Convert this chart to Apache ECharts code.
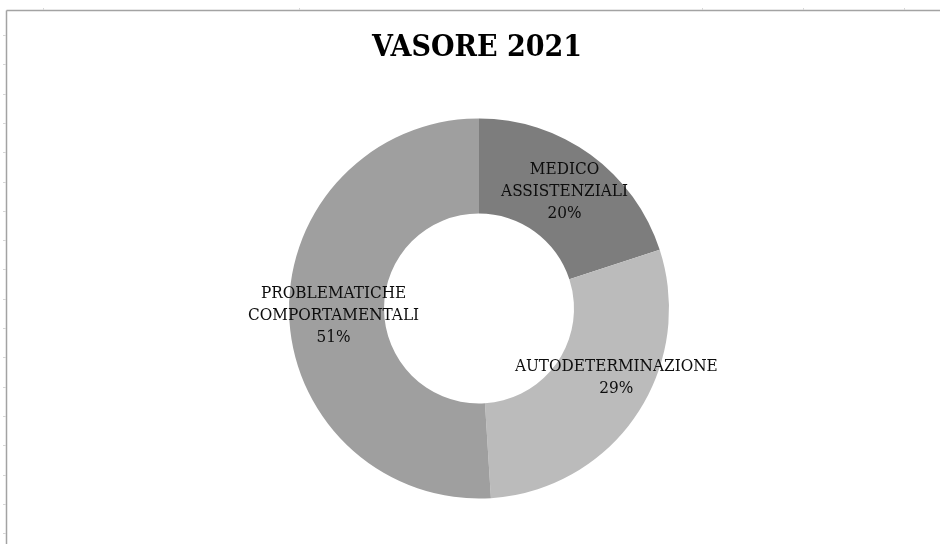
<!DOCTYPE html>
<html>
<head>
<meta charset="utf-8">
<title>VASORE 2021</title>
<script src="https://cdn.jsdelivr.net/npm/echarts@6/dist/echarts.min.js"></script>
<style>
  html, body { margin: 0; padding: 0; background: #ffffff; }
  #chart { width: 940px; height: 544px; }
</style>
</head>
<body>
<div id="chart"></div>
<script>
// Categories and shares (%) of the ring, clockwise from 12 o'clock
const categories = ['MEDICO ASSISTENZIALI', 'AUTODETERMINAZIONE', 'PROBLEMATICHE COMPORTAMENTALI'];
const shares = [20, 29, 51];
const sliceColors = ['#7d7d7d', '#bbbbbb', '#9f9f9f'];
const labelOffsets = [[0, 1], [17, -13], [0, 3]];

const serif = '"DejaVu Serif Condensed", "DejaVu Serif", serif';

const chart = echarts.init(document.getElementById('chart'), null, { renderer: 'canvas' });

// Sheet frame: top and left rules with small ruler ticks
const frameColor = '#a3a3a3';
const frame = [
  { type: 'line', shape: { x1: 6.5, y1: 10.5, x2: 940, y2: 10.5 }, style: { stroke: frameColor, lineWidth: 1.5 } },
  { type: 'line', shape: { x1: 6.5, y1: 10.5, x2: 6.5, y2: 544 }, style: { stroke: frameColor, lineWidth: 1.5 } }
];
for (let y = 35; y < 544; y += 29.3) {
  frame.push({ type: 'line', shape: { x1: 3, y1: Math.round(y) + 0.5, x2: 6, y2: Math.round(y) + 0.5 }, style: { stroke: '#d6d6d6', lineWidth: 1 } });
}
[43, 299, 702, 803, 904].forEach(function (x) {
  frame.push({ type: 'line', shape: { x1: x + 0.5, y1: 8, x2: x + 0.5, y2: 10 }, style: { stroke: '#d6d6d6', lineWidth: 1 } });
});

chart.setOption({
  animation: false,
  backgroundColor: '#ffffff',
  title: {
    text: 'VASORE 2021',
    left: 367,
    top: 28,
    textStyle: {
      fontFamily: serif,
      fontWeight: 'bold',
      fontSize: 30,
      color: '#000000'
    }
  },
  graphic: frame,
  series: [{
    type: 'pie',
    center: [479, 308.5],
    radius: [95, 190],
    startAngle: 90,
    clockwise: true,
    avoidLabelOverlap: false,
    emphasis: { disabled: true },
    itemStyle: { borderWidth: 0 },
    label: {
      show: true,
      position: 'inside',
      fontFamily: serif,
      fontSize: 17,
      lineHeight: 22,
      color: '#0d0d0d',
      align: 'center',
      formatter: function (p) {
        return p.name.split(' ').join('\n') + '\n' + p.value + '%';
      }
    },
    labelLine: { show: false },
    data: categories.map(function (name, i) {
      return {
        name: name,
        value: shares[i],
        itemStyle: { color: sliceColors[i] },
        label: { offset: labelOffsets[i] }
      };
    })
  }]
});
</script>
</body>
</html>
